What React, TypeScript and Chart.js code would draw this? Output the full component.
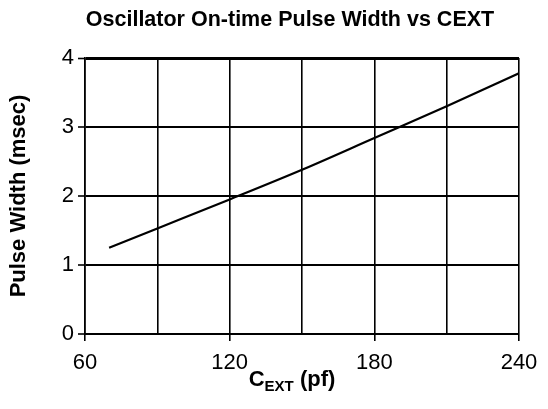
import React, { useEffect, useRef } from "react";
import { Chart, registerables } from "chart.js";

Chart.register(...registerables);

const chartTitle = "Oscillator On-time Pulse Width vs CEXT";
const yAxisTitle = "Pulse Width (msec)";
const xTitleMain = "C";
const xTitleSub = "EXT";
const xTitleTail = " (pf)";

const cextValues = [70, 90, 120, 150, 180, 210, 240];
const pulseWidthValues = [1.25, 1.53, 1.95, 2.38, 2.84, 3.3, 3.78];
const xLabeledTicks = [60, 120, 180, 240];

const FONT = "'Liberation Sans', Arial, Helvetica, sans-serif";

const textPlugin = {
  id: "customText",
  afterDraw(chart: any) {
    const ctx = chart.ctx;
    ctx.save();
    ctx.fillStyle = "#000";
    ctx.textBaseline = "alphabetic";
    // title
    ctx.font = `bold 21.5px ${FONT}`;
    ctx.textAlign = "center";
    ctx.fillText(chartTitle, 282, 18);
    // x axis title with subscript
    const mainFont = `bold 22px ${FONT}`;
    const subFont = `bold 15px ${FONT}`;
    ctx.font = mainFont;
    const wMain = ctx.measureText(xTitleMain).width;
    const wTail = ctx.measureText(xTitleTail).width;
    ctx.font = subFont;
    const wSub = ctx.measureText(xTitleSub).width;
    const total = wMain + wSub + wTail;
    let x = 284 - total / 2;
    const base = 378;
    ctx.textAlign = "left";
    ctx.font = mainFont;
    ctx.fillText(xTitleMain, x, base);
    x += wMain;
    ctx.font = subFont;
    ctx.fillText(xTitleSub, x, base + 5);
    x += wSub;
    ctx.font = mainFont;
    ctx.fillText(xTitleTail, x, base);
    ctx.restore();
  },
};

export default function App() {
  const ref = useRef<HTMLCanvasElement | null>(null);
  useEffect(() => {
    if (!ref.current) return;
    const chart = new Chart(ref.current, {
      type: "line",
      data: {
        datasets: [
          {
            data: cextValues.map((x, i) => ({ x, y: pulseWidthValues[i] })),
            borderColor: "#000",
            borderWidth: 2.2,
            pointRadius: 0,
            tension: 0.3,
            cubicInterpolationMode: "monotone",
            fill: false,
          },
        ],
      },
      options: {
        animation: false,
        responsive: false,
        maintainAspectRatio: false,
        layout: { padding: { top: 50, right: 21, left: 0, bottom: 0 } },
        plugins: {
          legend: { display: false },
          tooltip: { enabled: false },
          title: { display: false },
        },
        scales: {
          x: {
            type: "linear",
            min: 60,
            max: 240,
            afterFit: (s: any) => {
              s.height = 67;
              s.paddingLeft = 0;
              s.paddingRight = 0;
            },
            afterBuildTicks: (s: any) => {
              s.ticks = [60, 90, 120, 150, 180, 210, 240].map((v) => ({ value: v }));
            },
            ticks: {
              autoSkip: false,
              maxRotation: 0,
              color: "#000",
              padding: 9,
              font: { family: FONT, size: 22 },
              callback: (v: any) => (xLabeledTicks.includes(Number(v)) ? String(v) : ""),
            },
            grid: {
              color: "#000",
              lineWidth: 1.6,
              drawTicks: true,
              tickLength: 7,
              tickWidth: 1.6,
              tickColor: (c: any) =>
                c.tick && xLabeledTicks.includes(c.tick.value) ? "#000" : "rgba(0,0,0,0)",
            },
            border: { display: true, color: "#000", width: 2 },
          },
          y: {
            min: 0,
            max: 4,
            afterFit: (s: any) => {
              s.width = 77;
              s.paddingTop = 0;
              s.paddingBottom = 0;
            },
            ticks: {
              stepSize: 1,
              color: "#000",
              padding: 4,
              font: { family: FONT, size: 22 },
            },
            grid: {
              color: "#000",
              lineWidth: (c: any) => (c.tick && c.tick.value === 4 ? 3 : 2),
              drawTicks: true,
              tickLength: 7,
              tickWidth: 1.6,
              tickColor: "#000",
            },
            border: { display: true, color: "#000", width: 1.6 },
            title: {
              display: true,
              text: yAxisTitle,
              color: "#000",
              padding: 0,
              font: { family: FONT, size: 22, weight: "bold", lineHeight: 1.0 },
            },
          },
        },
      },
      plugins: [textPlugin],
    });
    return () => chart.destroy();
  }, []);
  return (
    <div style={{ width: 532, height: 393 }}>
      <canvas ref={ref} width={532} height={393} style={{ width: 532, height: 393 }} />
    </div>
  );
}
